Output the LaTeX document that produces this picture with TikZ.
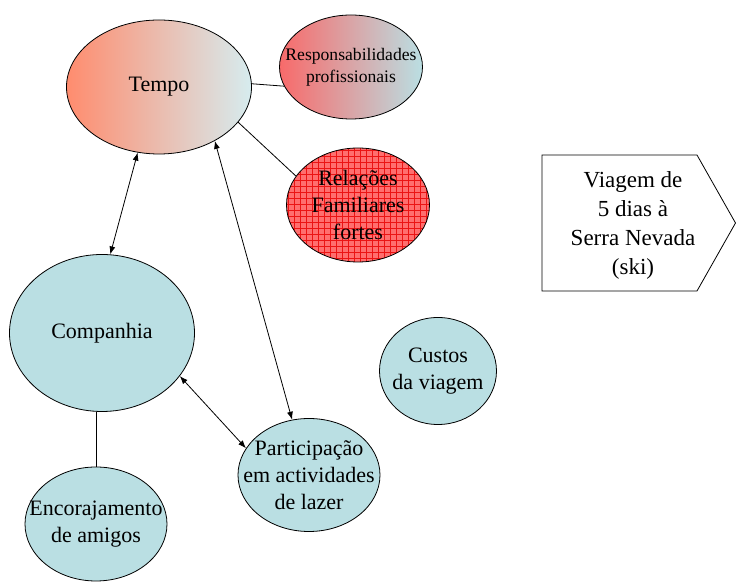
\documentclass[tikz,border=0pt]{standalone}
\usepackage{fontspec}
\setmainfont{Liberation Serif}
\usetikzlibrary{shapes.geometric}
\usetikzlibrary{patterns}
\usetikzlibrary{arrows.meta}
\definecolor{bluefill}{RGB}{186,223,227}
\definecolor{salmon}{RGB}{255,140,110}
\definecolor{rosered}{RGB}{248,106,106}
\definecolor{paleblue}{RGB}{214,236,239}
\definecolor{gridred}{RGB}{235,20,20}
\definecolor{lightred}{RGB}{255,110,110}

\begin{document}
\begin{tikzpicture}[x=0.5pt,y=-0.5pt,
bubble_style/.style={draw,ellipse,inner sep=0pt,fill=bluefill},
text_style/.style={align=center,font=\fontsize{11}{13.5}\selectfont},
link_style/.style={draw,thin},
both_style/.style={draw,thin,{Latex[length=4pt,width=3pt]}-{Latex[length=4pt,width=3pt]}}]

\useasboundingbox (0,0) rectangle (736,582);

% bubbles
\node[bubble_style,left color=salmon,right color=paleblue,
 minimum width=92.5pt,minimum height=67pt,
 label={[text_style]center:Tempo}] (tempo) at (159,87) {};
\node[bubble_style,left color=rosered,right color=bluefill,
 minimum width=71.5pt,minimum height=52pt,
 label={[align=center,font=\fontsize{8.8}{11}\selectfont]center:Responsabilidades\\profissionais}] (resp) at (351,67) {};
\node[bubble_style,preaction={fill=lightred},pattern=grid,pattern color=gridred,
 minimum width=71.5pt,minimum height=57pt,
 label={[text_style]center:Relações\\Familiares\\fortes}] (relacoes) at (358,205) {};
\node[bubble_style,minimum width=92.5pt,minimum height=78.5pt,
 label={[text_style]center:Companhia}] (companhia) at (102,333) {};
\node[bubble_style,minimum width=58.5pt,minimum height=53.5pt,
 label={[text_style]center:Custos\\da viagem}] (custos) at (438,371) {};
\node[bubble_style,minimum width=71pt,minimum height=56.5pt,
 label={[text_style]center:Participação\\em actividades\\de lazer}] (lazer) at (309,475) {};
\node[bubble_style,minimum width=71pt,minimum height=57pt,
 label={[text_style]center:Encorajamento\\de amigos}] (amigos) at (96,524) {};

% trip
\coordinate (v1) at (542,155);
\coordinate (v2) at (697,155);
\coordinate (v3) at (735.5,223);
\coordinate (v4) at (697,291);
\coordinate (v5) at (542,291);
\draw[fill=white] (v1) -- (v2) -- (v3) -- (v4) -- (v5) -- cycle;
\node[align=center,font=\fontsize{11.5}{14.5}\selectfont] (viagem) at (633,225)
 {Viagem de\\5 dias à\\Serra Nevada\\(ski)};

% links
\draw[link_style] (tempo.2) -- (resp.196);
\draw[link_style] (tempo.336) -- (relacoes.155);
\draw[link_style] (amigos.north) -- (amigos.north |- companhia.south);

\draw[both_style] (tempo.252) -- (companhia.84);
\draw[both_style] (tempo.316) -- (lazer.107);
\draw[both_style] (companhia.331) -- (lazer.157);
\end{tikzpicture}
\end{document}
